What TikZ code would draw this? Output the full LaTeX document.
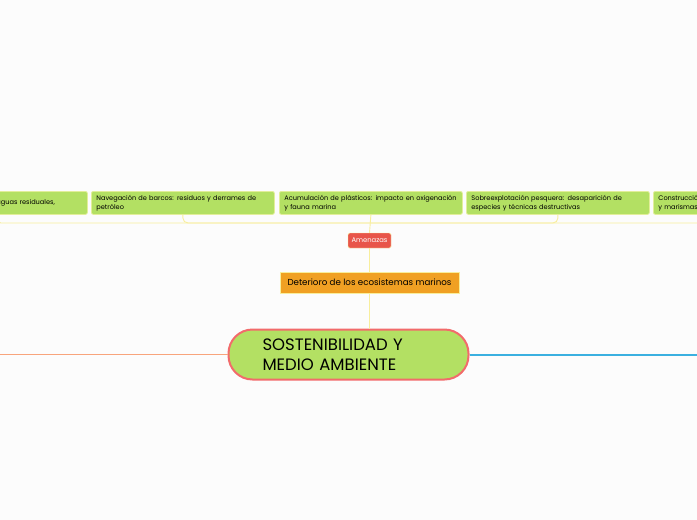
\documentclass[tikz,border=0pt]{standalone}
\usepackage{fontspec}
\setmainfont{Poppins}
\definecolor{paper}{HTML}{FCFCFC}
\definecolor{leaf}{HTML}{B3E063}
\definecolor{leafrim}{HTML}{E2EE9A}
\definecolor{amber}{HTML}{F0A023}
\definecolor{alarm}{HTML}{E8554A}
\definecolor{coral}{HTML}{F26B6B}
\definecolor{stemline}{HTML}{F8EE9C}
\definecolor{peach}{HTML}{F8A47C}
\definecolor{sky}{HTML}{3BB0E0}

\tikzset{
	leafbox/.style={draw=leafrim, fill=leaf, rounded corners=2pt, line width=0.8pt,
		minimum width=183pt, minimum height=23pt, text width=173pt, inner xsep=5pt,
		inner ysep=2pt, align=left, anchor=north west,
		font=\fontsize{6.6}{8.8}\selectfont},
	threat/.style={fill=alarm, draw=stemline, rounded corners=1.5pt, text=white,
		minimum width=43pt, minimum height=15pt, inner sep=0pt,
		font=\fontsize{6.8}{8}\selectfont},
	topic/.style={fill=amber, draw=stemline, line width=0.8pt, minimum width=179pt,
		minimum height=21pt, inner sep=0pt, font=\fontsize{8.7}{10}\selectfont},
	core/.style={fill=leaf, draw=coral, line width=2pt, rounded corners=24pt,
		minimum width=240pt, minimum height=50pt, text width=172pt, inner sep=0pt,
		align=left, font=\fontsize{16.5}{20}\selectfont},
	stem/.style={draw=stemline, line width=0.9pt}
}

\begin{document}
\begin{tikzpicture}[x=1pt,y=-1pt]
	\useasboundingbox (0,0) rectangle (697,520);
	\clip (0,0) rectangle (697,520);
	\fill[paper] (0,0) rectangle (697,520);

	% amenazas row
	\foreach \x/\n/\t in {
		-96/b1/{\hspace*{87pt}aguas residuales,},
		91/b2/{Navegación de barcos: residuos y derrames de\\petróleo},
		279/b3/{Acumulación de plásticos: impacto en oxigenación\\y fauna marina},
		466/b4/{Sobreexplotación pesquera: desaparición de\\especies y técnicas destructivas},
		653/b5/{Construcción\\y marismas}} {
		\node[leafbox] (\n) at (\x,191) {\t};
	}

	\node[threat] (warn) at (369.5,240.5) {Amenazas};
	\node[topic] (decay) at (369.5,282.5) {Deterioro de los ecosistemas marinos};
	\node[core] (main) at (348.5,354.5) {SOSTENIBILIDAD Y\\MEDIO AMBIENTE};

	\coordinate (hub) at (369.5,223);
	\coordinate (farleft) at (0,354.5);
	\coordinate (farright) at (697,354.5);

	\foreach \n in {b1,b2,b4,b5} {
		\draw[stem, rounded corners=5pt] (\n.south) |- (hub);
	}
	\draw[stem] (b3.south) -- (warn.north);
	\draw[stem] (warn.south) -- (decay.north);
	\draw[stem] (decay.south) -- (main.north -| decay.south);

	\draw[peach, line width=1.5pt] (main.west) -- (farleft);
	\draw[sky, line width=2pt] (main.east) -- (farright);
\end{tikzpicture}
\end{document}
